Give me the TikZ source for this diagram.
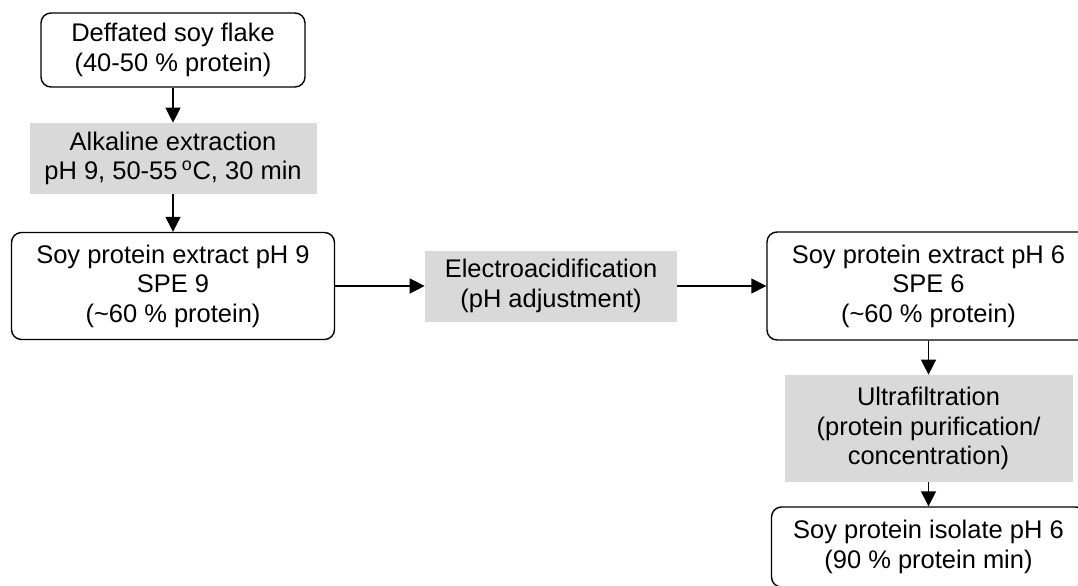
\documentclass[tikz,border=0pt]{standalone}
\usepackage{fontspec}
\setmainfont{Liberation Sans}
\usetikzlibrary{arrows.meta}
\definecolor{boxgray}{RGB}{217,217,217}
\begin{document}
\begin{tikzpicture}[
  font=\fontsize{14.5}{16.8}\selectfont,
  every node/.style={align=center, inner sep=0pt},
  stage/.style={draw, line width=0.8pt, rounded corners=0.2cm, minimum width=#1},
  process/.style={fill=boxgray, minimum width=#1},
  flow/.style={line width=0.8pt, -{Triangle[length=0.3cm, width=0.3cm]}}
  ]
  \useasboundingbox (0,0) rectangle (21.56,-11.72);
  \clip (0,0) rectangle (21.56,-11.72);
  \node[stage=5.28cm, minimum height=1.48cm] (flake) at (3.46,-1.0) {Deffated soy flake\\(40-50 \% protein)};
  \node[process=5.74cm, minimum height=1.42cm] (alkaline) at (3.46,-3.17) {Alkaline extraction\\pH 9, 50-55\,\textsuperscript{o}C, 30 min};
  \node[stage=6.46cm, minimum height=2.14cm] (spe9) at (3.46,-5.72) {Soy protein extract pH 9\\SPE 9\\(\textasciitilde60 \% protein)};
  \node[process=5.04cm, minimum height=1.42cm] (electro) at (11.02,-5.72) {Electroacidification\\(pH adjustment)};
  \node[stage=6.46cm, minimum height=2.16cm] (spe6) at (18.57,-5.72) {Soy protein extract pH 6\\SPE 6\\(\textasciitilde60 \% protein)};
  \node[process=5.76cm, minimum height=2.14cm] (ultra) at (18.57,-8.57) {Ultrafiltration\\(protein purification/\\concentration)};
  \node[stage=6.28cm, minimum height=1.6cm] (isolate) at (18.57,-10.94) {Soy protein isolate pH 6\\(90 \% protein min)};
  \draw[flow] (flake) -- (alkaline);
  \draw[flow] (alkaline) -- (spe9);
  \draw[flow] (spe9) -- (electro);
  \draw[flow] (electro) -- (spe6);
  \draw[flow] (spe6) -- (ultra);
  \draw[flow] (ultra) -- (isolate);
\end{tikzpicture}
\end{document}
